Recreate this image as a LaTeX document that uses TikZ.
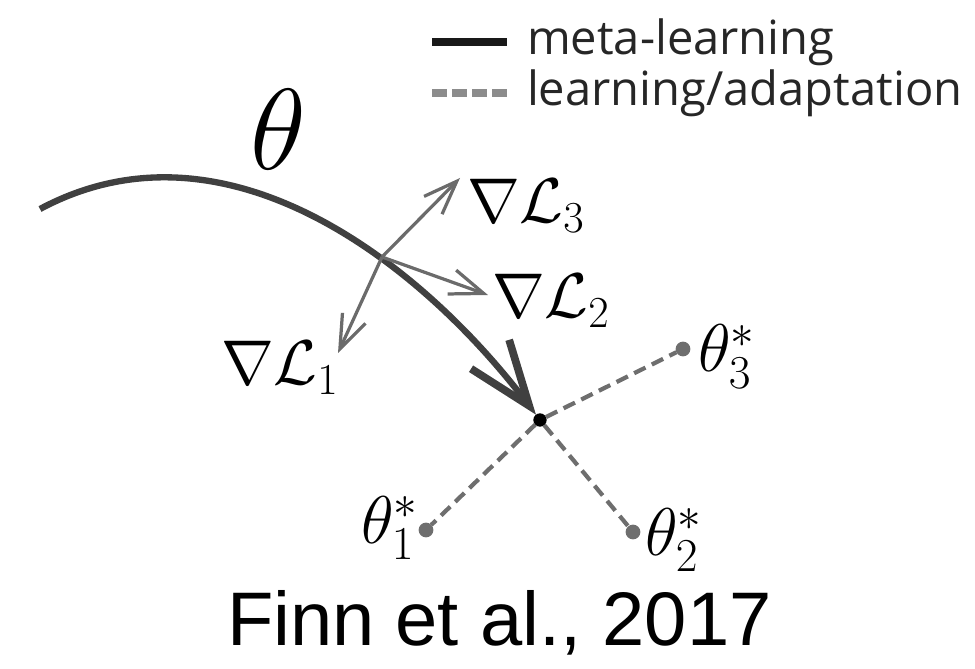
\RequirePackage{fix-cm}
\documentclass[tikz,border=0pt]{standalone}
\usepackage{fontspec}
\usepackage{amsmath}
\usetikzlibrary{arrows.meta}
\newfontfamily\legfont{Open Sans}
\newfontfamily\citefont{Liberation Sans}
\newcommand{\gradL}[1]{\ensuremath{\nabla\mathcal{L}_{#1}}}
\newcommand{\optT}[1]{\ensuremath{\theta^{*}_{#1}}}

\begin{document}
\begin{tikzpicture}[
    x=0.025cm, y=-0.025cm,
    every node/.style={inner sep=0pt, outer sep=0pt},
    metapath/.style={line width=4.5pt, draw=black!75,
        -{Straight Barb[length=46pt, width=34pt, line width=5.5pt]}},
    gradarrow/.style={line width=2.3pt, draw=black!58,
        -{Straight Barb[length=24pt, width=18pt]}},
    adapt/.style={line width=3pt, draw=black!57, dash pattern=on 9pt off 5pt},
    optdot/.style={circle, fill=black!57, minimum size=10.5pt},
    ctrdot/.style={circle, fill=black, minimum size=9.5pt},
    bigsym/.style={anchor=base west, font=\fontsize{82}{88}\selectfont},
    gradlabel/.style={anchor=base west, font=\fontsize{45}{50}\selectfont},
    optlabel/.style={anchor=base west, font=\fontsize{48}{52}\selectfont},
    legtext/.style={anchor=base west, text=black!85,
        font=\legfont\fontsize{33.5}{40}\selectfont}
]
\useasboundingbox (0,0) rectangle (975,669);

% Legend
\draw[line width=5.7pt, draw=black!90] (432,42) -- (507,42);
\draw[line width=5pt, draw=black!45, dash pattern=on 10.7pt off 3.6pt] (432,93) -- (507,93);
\node[legtext] (lmeta)  at (527,55) {meta-learning};
\node[legtext] (ladapt) at (527,106) {learning/adaptation};

% Task optima and the meta parameters
\node[ctrdot] (ctr) at (540,420) {};
\node[optdot] (t1)  at (426,530) {};
\node[optdot] (t2)  at (633,532) {};
\node[optdot] (t3)  at (683,349) {};

% Adaptation from theta to each task
\foreach \t in {t1,t2,t3} {
  \draw[adapt] (ctr) -- (\t);
}

% Meta-learning trajectory
\node[bigsym] (th) at (250,170) {$\theta$};
\draw[metapath] (40,209) .. controls (225,110) and (420,262) .. (ctr);

% Task gradients
\coordinate (split) at (382,257);
\coordinate (tip1) at (338,353);
\coordinate (tip2) at (488,295);
\coordinate (tip3) at (460,178);
\foreach \k in {1,2,3} {
  \draw[gradarrow] (split) -- (tip\k);
}
\node[gradlabel] (g3) at (467,223) {\gradL{3}};
\node[gradlabel] (g2) at (492,318) {\gradL{2}};
\node[gradlabel] (g1) at (221,385) {\gradL{1}};

\node[optlabel] (o3) at (698,372) {\optT{3}};
\node[optlabel] (o1) at (361,543) {\optT{1}};
\node[optlabel] (o2) at (645,555) {\optT{2}};

% Citation
\node[anchor=base west, font=\citefont\fontsize{54}{60}\selectfont] (cite) at (227,645) {Finn et al., 2017};
\end{tikzpicture}
\end{document}
